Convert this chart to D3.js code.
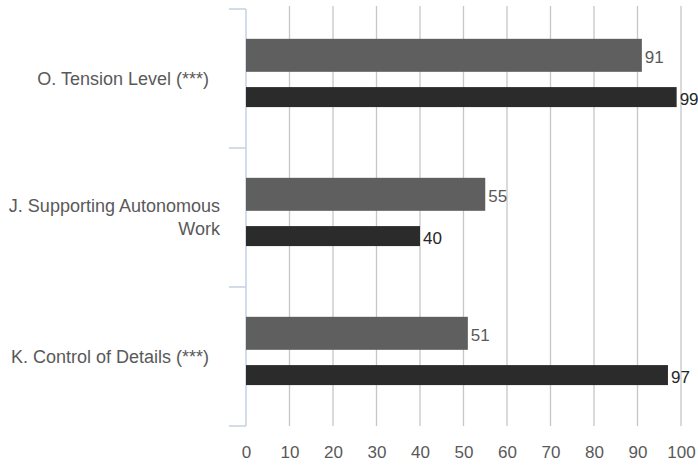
<!DOCTYPE html>
<html>
<head>
<meta charset="utf-8">
<script src="https://cdn.jsdelivr.net/npm/d3@7"></script>
<style>
  html, body { margin: 0; padding: 0; background: #ffffff; }
  svg { display: block; }
  text { font-family: "Liberation Sans", Arial, sans-serif; }
</style>
</head>
<body>
<svg id="chart" width="698" height="469"></svg>
<script>
// Categories, top to bottom
const categories = [
  "O. Tension Level (***)",
  "J. Supporting Autonomous Work",
  "K. Control of Details (***)"
];
// Two series per category
const seriesKeys = ["first", "second"];
const firstValues = [91, 55, 51];
const secondValues = [99, 40, 97];
// Value-axis ticks
const tickValues = [0, 10, 20, 30, 40, 50, 60, 70, 80, 90, 100];

const seriesColors = { first: "#5f5f5f", second: "#2b2b2b" };
const seriesLabelColors = { first: "#595959", second: "#262626" };
const seriesThickness = { first: 33, second: 20 };

const width = 698, height = 469;
const margin = { top: 9, right: 17, bottom: 43, left: 246 };

const svg = d3.select("#chart");

const x = d3.scaleLinear()
  .domain([0, 100])
  .range([margin.left, width - margin.right]);

const y0 = d3.scaleBand()
  .domain(categories)
  .range([margin.top, height - margin.bottom])
  .padding(0);

const bw = y0.bandwidth();
const y1 = d3.scaleBand()
  .domain(seriesKeys)
  .range([bw * 0.183, bw * 0.784])
  .padding(0);

const rows = categories.map((c, i) => ({
  category: c,
  first: firstValues[i],
  second: secondValues[i]
}));

// Vertical gridlines
svg.append("g")
  .selectAll("line")
  .data(tickValues.filter(t => t > 0))
  .join("line")
  .attr("x1", d => x(d)).attr("x2", d => x(d))
  .attr("y1", margin.top - 3)
  .attr("y2", height - margin.bottom)
  .attr("stroke", "#c6c6c6")
  .attr("stroke-width", 1.3);

// Bottom axis: tick labels only
const xAxis = svg.append("g")
  .attr("transform", `translate(0,${height - margin.bottom})`)
  .call(d3.axisBottom(x).tickValues(tickValues).tickSize(0).tickPadding(20));
xAxis.select(".domain").remove();
xAxis.selectAll("text")
  .attr("font-size", 17)
  .attr("fill", "#595959")
  .attr("font-family", "Liberation Sans, Arial, sans-serif");

// Left category axis with separators between bands
const bandEdges = categories.map(c => y0(c)).concat([y0.range()[1]]);
const yAxisG = svg.append("g");
yAxisG.append("line")
  .attr("x1", x(0)).attr("x2", x(0))
  .attr("y1", margin.top).attr("y2", height - margin.bottom)
  .attr("stroke", "#c8d5e5").attr("stroke-width", 1.6);
yAxisG.selectAll("line.sep")
  .data(bandEdges)
  .join("line")
  .attr("class", "sep")
  .attr("x1", x(0) - 17).attr("x2", x(0))
  .attr("y1", d => d).attr("y2", d => d)
  .attr("stroke", "#c8d5e5").attr("stroke-width", 1.6);

// Category labels, wrapped to a maximum width and right aligned
const maxLabelWidth = 215;
const lineHeight = 22.7;
const labelG = svg.append("g");
categories.forEach(cat => {
  const t = labelG.append("text")
    .attr("font-size", 18)
    .attr("fill", "#595959")
    .attr("text-anchor", "end");
  const words = cat.split(" ");
  const lines = [];
  let current = [];
  const probe = t.append("tspan");
  words.forEach(w => {
    const trial = current.concat([w]).join(" ");
    probe.text(trial);
    if (probe.node().getComputedTextLength() > maxLabelWidth && current.length) {
      lines.push(current.join(" "));
      current = [w];
    } else {
      current.push(w);
    }
  });
  lines.push(current.join(" "));
  probe.remove();
  const cy = y0(cat) + bw / 2;
  const xr = lines.length > 1 ? 220 : 209;
  lines.forEach((ln, i) => {
    t.append("tspan")
      .attr("x", xr)
      .attr("y", cy + (i - (lines.length - 1) / 2) * lineHeight)
      .attr("dy", "0.35em")
      .text(ln);
  });
});

// Bars
const groups = svg.append("g")
  .selectAll("g")
  .data(rows)
  .join("g")
  .attr("transform", d => `translate(0,${y0(d.category)})`);

const cells = groups.selectAll("g")
  .data(d => seriesKeys.map(k => ({ key: k, value: d[k] })))
  .join("g");

cells.append("rect")
  .attr("x", x(0))
  .attr("y", d => y1(d.key) + y1.bandwidth() / 2 - seriesThickness[d.key] / 2)
  .attr("width", d => x(d.value) - x(0))
  .attr("height", d => seriesThickness[d.key])
  .attr("fill", d => seriesColors[d.key]);

// Value labels
cells.append("text")
  .attr("x", d => x(d.value) + 3)
  .attr("y", d => y1(d.key) + y1.bandwidth() / 2 + 2)
  .attr("dy", "0.35em")
  .attr("font-size", 17)
  .attr("fill", d => seriesLabelColors[d.key])
  .text(d => d.value);
</script>
</body>
</html>
